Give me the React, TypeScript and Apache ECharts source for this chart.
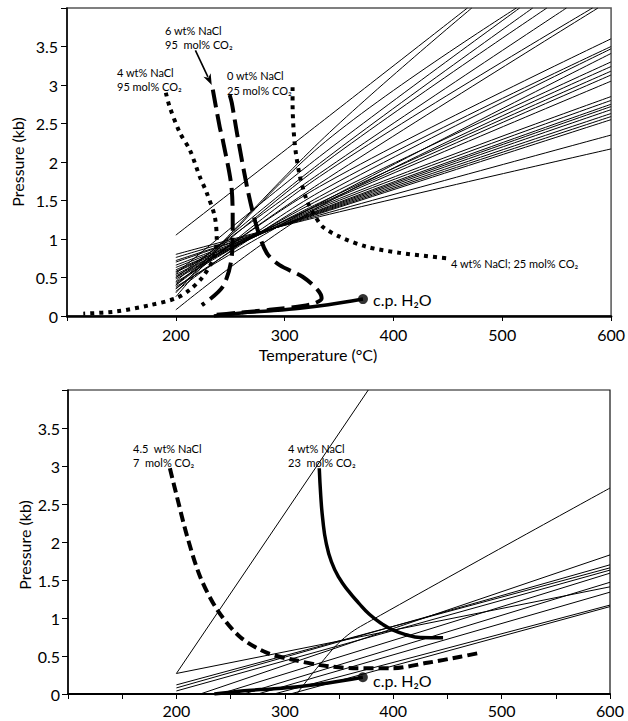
import React, { useEffect, useRef } from "react";
import * as echarts from "echarts";

const FONT = "Lato, 'DejaVu Sans', sans-serif";

// ---------- axis ranges ----------
const T_MIN = 100;
const T_MAX = 600;
const P_MIN = 0;
const P_MAX = 4;

// ---------- TOP PANEL: isochores ----------
const isoStartT = 200;
const isoMidT = 332;
// isochores that leave through the top (P = 4 kb)
const topSteepP200 = [1.05, 0.3, 0.25, 0.55, 0.45, 0.4, 0.5, 0.35, 0.42];
const topSteepP332 = [2.5, 2.26, 2.2, 2.07, 1.98, 1.94, 1.85, 1.81, 1.72];
const topSteepTtop = [468, 472, 513, 516, 528, 541, 559, 583, 588];
// isochores that reach T = 600 °C
const topFanP200 = [0.58, 0.52, 0.48, 0.08, 0.44, 0.38, 0.36, 0.32, 0.4, 0.8, 0.76, 0.72, 0.7, 0.66, 0.63, 0.6, 0.57, 0.54, 0.5];
const topFanP332 = [1.44, 1.45, 1.47, 1.42, 1.51, 1.46, 1.55, 1.61, 1.68, 1.29, 1.31, 1.33, 1.34, 1.35, 1.36, 1.37, 1.38, 1.4, 1.42];
const topFanP600 = [3.05, 3.13, 3.18, 3.24, 3.3, 3.41, 3.47, 3.5, 3.6, 2.17, 2.35, 2.55, 2.59, 2.63, 2.68, 2.72, 2.75, 2.8, 2.85];

// ---------- TOP PANEL: solvus / homogenisation curves ----------
const curve4wt95co2 = [
  [190.8, 2.9], [194.5, 2.71], [203.7, 2.38], [212.8, 2.16], [222, 1.81], [228.4, 1.6],
  [235.8, 1.29], [237.6, 0.99], [234, 0.73], [224.8, 0.51], [212.8, 0.34], [200, 0.23],
  [176, 0.14], [146, 0.06], [115, 0.03],
];
const curve6wt95co2 = [
  [234, 2.94], [240.4, 2.45], [243.1, 2.29], [251.4, 1.64], [252.3, 1.16], [251.4, 0.77],
  [243.1, 0.38], [223.9, 0.14],
];
const curve0wt25co2 = [
  [249.5, 2.87], [251.4, 2.77], [256.9, 2.32], [266, 1.64], [274.3, 1.16], [283.5, 0.82],
  [295.4, 0.66], [316.5, 0.51], [330.3, 0.34], [334, 0.23], [328.4, 0.17], [316.5, 0.13],
  [286.2, 0.08], [256, 0.04], [234, 0.01],
];
const curve4wt25co2 = [
  [307.3, 2.97], [307.3, 2.77], [309.2, 2.25], [313.8, 1.83], [320.2, 1.51], [327.5, 1.31],
  [334.9, 1.16], [350.5, 1.03], [375.2, 0.9], [405.5, 0.82], [448.6, 0.75],
];
const h2oBoiling = [[235, 0.0], [260, 0.04], [290, 0.07], [314, 0.1], [340, 0.146], [372, 0.22]];
const h2oCritical = [[372, 0.22]];
const arrowFrom = [218, 3.45];
const arrowTo = [233, 3.0];

// ---------- BOTTOM PANEL ----------
const botStartT = [200, 200, 200, 200, 222, 240, 262, 275, 290, 305];
const botStartP = [0.27, 0.12, 0.08, 0.04, 0, 0, 0, 0, 0, 0];
const botEndP600 = [1.41, 1.66, 1.7, 1.63, 1.83, 1.59, 1.47, 1.34, 1.17, 1.15];
const botSteepLine = [[200, 0.27], [377, 4]];
const botLongLine = [[311, 0], [333, 0.4], [355, 0.74], [380, 0.97], [600, 2.71]];
const curve45wt7co2 = [
  [194, 2.97], [200.6, 2.59], [210, 2.07], [222, 1.54], [237.6, 1.11], [258.8, 0.75],
  [283.7, 0.54], [307.8, 0.45], [332.7, 0.38], [363, 0.34], [400, 0.34], [431.5, 0.41],
  [462, 0.49], [479.5, 0.54],
];
const curve4wt23co2 = [
  [331.8, 2.97], [333.2, 2.6], [335, 2.3], [338, 2.0], [343, 1.74], [350, 1.53], [359, 1.35],
  [368, 1.2], [378, 1.05], [390, 0.92], [400, 0.84], [412, 0.78], [425, 0.745], [446, 0.74],
];

function thin(data: number[][], idx: number, smooth: number | boolean = 0.35) {
  return {
    type: "line",
    xAxisIndex: idx,
    yAxisIndex: idx,
    data,
    symbol: "none",
    smooth,
    silent: true,
    z: 2,
    lineStyle: { color: "#000", width: 1 },
  };
}

function thick(data: number[][], idx: number, width: number, type: any, smooth: number | boolean = 0.3) {
  return {
    type: "line",
    xAxisIndex: idx,
    yAxisIndex: idx,
    data,
    symbol: "none",
    smooth,
    silent: true,
    z: 5,
    lineStyle: { color: "#000", width, type, cap: "butt", join: "round" },
  };
}

function xAxisCfg(grid: number, interval: number, margin: number, lineWidth: number) {
  return {
    type: "value",
    gridIndex: grid,
    min: T_MIN,
    max: T_MAX,
    interval,
    splitLine: { show: false },
    axisLine: { show: true, onZero: false, lineStyle: { color: "#000", width: lineWidth } },
    axisTick: { show: true, length: 5, lineStyle: { color: "#000", width: 1 } },
    axisLabel: {
      margin,
      fontSize: 16,
      fontFamily: FONT,
      color: "#000",
      formatter: (v: number) => (v % 100 === 0 && v !== T_MIN ? String(v) : ""),
    },
  };
}

function yAxisCfg(grid: number, margin: number) {
  return {
    type: "value",
    gridIndex: grid,
    min: P_MIN,
    max: P_MAX,
    interval: 0.5,
    splitLine: { show: false },
    axisLine: { show: true, onZero: false, lineStyle: { color: "#000", width: 1.5 } },
    axisTick: { show: true, length: 6, lineStyle: { color: "#000", width: 1 } },
    axisLabel: {
      margin,
      fontSize: 16,
      fontFamily: FONT,
      color: "#000",
      formatter: (v: number) => (v === P_MAX ? "" : String(v)),
    },
  };
}

function txt(text: string, x: number, y: number, size: number, extra: any = {}) {
  return {
    type: "text",
    x,
    y,
    silent: true,
    z: 10,
    ...extra,
    style: {
      text,
      fill: "#000",
      font: `${size}px ${FONT}`,
      verticalAlign: "middle",
      align: extra.align || "left",
    },
  };
}

export default function App() {
  const ref = useRef<HTMLDivElement>(null);

  useEffect(() => {
    document.body.style.margin = "0";
    if (!ref.current) return;
    const chart = echarts.init(ref.current, undefined, { renderer: "svg" });

    const series: any[] = [];
    // top isochores
    topSteepP200.forEach((p0, i) => {
      series.push(thin([[isoStartT, p0], [isoMidT, topSteepP332[i]], [topSteepTtop[i], P_MAX]], 0));
    });
    topFanP200.forEach((p0, i) => {
      series.push(thin([[isoStartT, p0], [isoMidT, topFanP332[i]], [T_MAX, topFanP600[i]]], 0));
    });
    // top curves
    series.push(thick(curve4wt95co2, 0, 4, [4, 5]));
    series.push(thick(curve6wt95co2, 0, 4, [18, 7]));
    series.push(thick(curve0wt25co2, 0, 4, [18, 7]));
    series.push(thick(curve4wt25co2, 0, 4, [4, 5]));
    series.push(thick(h2oBoiling, 0, 3.5, "solid"));
    series.push({
      type: "scatter",
      xAxisIndex: 0,
      yAxisIndex: 0,
      data: h2oCritical,
      symbolSize: 10,
      itemStyle: { color: "#000" },
      silent: true,
      z: 6,
    });

    // bottom isochores
    botStartT.forEach((t0, i) => {
      series.push(thin([[t0, botStartP[i]], [T_MAX, botEndP600[i]]], 1, false));
    });
    series.push(thin(botSteepLine, 1, false));
    series.push(thin(botLongLine, 1, 0.4));
    // bottom curves
    series.push(thick(curve45wt7co2, 1, 4, [10, 5]));
    series.push(thick(curve4wt23co2, 1, 3.5, "solid", 0.5));
    series.push(thick(h2oBoiling, 1, 3.5, "solid"));
    series.push({
      type: "scatter",
      xAxisIndex: 1,
      yAxisIndex: 1,
      data: h2oCritical,
      symbolSize: 10,
      itemStyle: { color: "#000" },
      silent: true,
      z: 6,
    });

    const texts: any[] = [
      txt("6 wt% NaCl", 165, 30, 11),
      txt("95  mol% CO₂", 165, 44, 11),
      txt("4 wt% NaCl", 117, 72, 11),
      txt("95 mol% CO₂", 117, 86, 11),
      txt("0 wt% NaCl", 227, 75, 11),
      txt("25 mol% CO₂", 227, 90, 11),
      txt("4 wt% NaCl; 25 mol% CO₂", 451, 263, 11),
      txt("c.p. H₂O", 373, 299, 16),
      txt("Temperature (°C)", 318, 354, 16, { align: "center" }),
      txt("Pressure (kb)", 17, 162, 16, { align: "center", rotation: Math.PI / 2 }),
      txt("4.5  wt% NaCl", 133, 448, 11),
      txt("7  mol% CO₂", 133, 462, 11),
      txt("4 wt% NaCl", 288, 448, 11),
      txt("23  mol% CO₂", 288, 462, 11),
      txt("c.p. H₂O", 373, 680, 16),
      txt("Pressure (kb)", 24, 545, 16, { align: "center", rotation: Math.PI / 2 }),
    ];

    const option: any = {
      animation: false,
      backgroundColor: "#fff",
      grid: [
        { left: 67, top: 8, width: 545, height: 308, show: true, borderColor: "#555", borderWidth: 1.5, backgroundColor: "transparent" },
        { left: 68, top: 390, width: 542, height: 304, show: true, borderColor: "#111", borderWidth: 1.2, backgroundColor: "transparent" },
      ],
      xAxis: [xAxisCfg(0, 100, 10, 2.5), xAxisCfg(1, 50, 8, 2)],
      yAxis: [yAxisCfg(0, 9), yAxisCfg(1, 8)],
      series,
      graphic: texts,
    };
    chart.setOption(option);

    // arrow from the "6 wt% NaCl" label to its curve, placed through the axis scales
    const a = chart.convertToPixel({ gridIndex: 0 }, arrowFrom) as number[];
    const b = chart.convertToPixel({ gridIndex: 0 }, arrowTo) as number[];
    if (a && b) {
      const dx = b[0] - a[0];
      const dy = b[1] - a[1];
      const len = Math.hypot(dx, dy) || 1;
      const ux = dx / len;
      const uy = dy / len;
      const headLen = 11;
      const headHalf = 4;
      const bx = b[0] - ux * headLen;
      const by = b[1] - uy * headLen;
      const nx = -uy;
      const ny = ux;
      chart.setOption({
        graphic: [
          ...texts,
          {
            type: "line",
            silent: true,
            z: 10,
            shape: { x1: a[0], y1: a[1], x2: bx + ux * 2, y2: by + uy * 2 },
            style: { stroke: "#000", lineWidth: 1.6 },
          },
          {
            type: "polygon",
            silent: true,
            z: 10,
            shape: {
              points: [
                [b[0], b[1]],
                [bx + nx * headHalf, by + ny * headHalf],
                [bx + ux * 3, by + uy * 3],
                [bx - nx * headHalf, by - ny * headHalf],
              ],
            },
            style: { fill: "#000" },
          },
        ],
      });
    }
    return () => chart.dispose();
  }, []);

  return <div ref={ref} style={{ width: 628, height: 721 }} />;
}
